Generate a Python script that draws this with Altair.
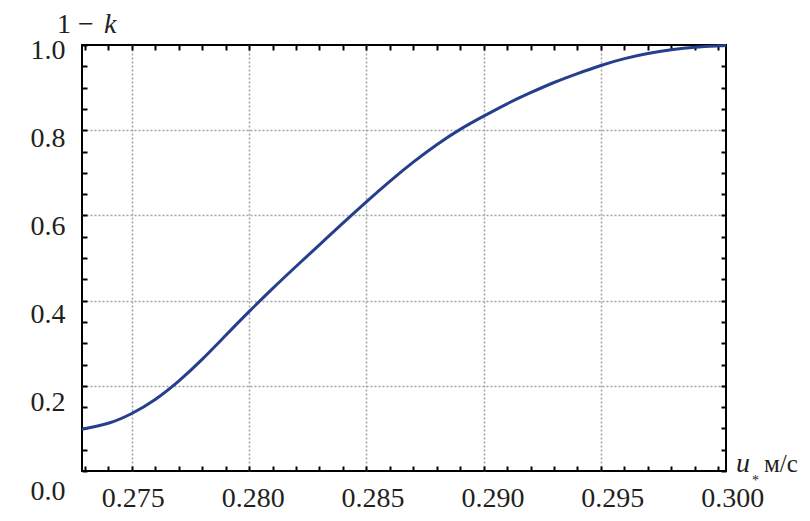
import altair as alt
import pandas as pd

# curve data
u_star = [0.27288, 0.274, 0.275, 0.276, 0.277, 0.278, 0.279, 0.280, 0.281, 0.282,
          0.283, 0.284, 0.285, 0.286, 0.287, 0.288, 0.289, 0.290, 0.291, 0.292,
          0.293, 0.294, 0.295, 0.296, 0.297, 0.298, 0.299, 0.300, 0.30033]
one_minus_k = [0.098, 0.112, 0.135, 0.168, 0.211, 0.262, 0.318, 0.374, 0.428, 0.480,
               0.531, 0.582, 0.632, 0.680, 0.725, 0.766, 0.802, 0.833, 0.862, 0.888,
               0.912, 0.933, 0.952, 0.968, 0.980, 0.989, 0.995, 0.998, 0.999]

x_domain = [0.27288, 0.30033]
y_domain = [0.0, 1.0]
x_ticks = [round(0.273 + i * 0.001, 3) for i in range(28)]
y_ticks = [round(i * 0.05, 2) for i in range(21)]

y_title = ["1 −", "k"]
x_title = ["u", "*", "м/с"]

df = pd.DataFrame({"u": u_star, "k": one_minus_k})

FONT = "Liberation Serif, Times New Roman, serif"
INK = "#231f20"
GRID = "#a3a3a3"

x_major = "abs(datum.value*200 - round(datum.value*200)) < 0.01"
y_major = "abs(datum.value*5 - round(datum.value*5)) < 0.01"

x_scale = alt.Scale(domain=x_domain, nice=False, zero=False)
y_scale = alt.Scale(domain=y_domain, nice=False, zero=False)

common_axis = dict(domain=False, tickSize=5, tickWidth=2, tickColor="black",
                   offset=-5, title=None, labelFont=FONT, labelFontSize=28,
                   labelColor=INK, labelOverlap=False, labelFlush=False)

x_bottom = alt.Axis(orient="bottom", values=x_ticks,
                    labelExpr=f"{x_major} ? format(datum.value, '.3f') : ''",
                    labelPadding=13,
                    labelOffset={"expr": "1 + (datum.value - 0.275) * 520"},
                    grid=True, gridColor=GRID, gridDash=[2, 2], gridWidth=1.5,
                    gridOpacity={"condition": {"test": f"{x_major} && datum.value < 0.2995", "value": 1}, "value": 0},
                    **common_axis)
y_left = alt.Axis(orient="left", values=y_ticks,
                  labelExpr=f"{y_major} ? format(datum.value, '.1f') : ''",
                  labelPadding=17,
                  labelOffset={"expr": "5 + (1 - datum.value) * 15"},
                  grid=True, gridColor=GRID, gridDash=[2, 2], gridWidth=1.5,
                  gridOpacity={"condition": {"test": f"{y_major} && datum.value > 0.01 && datum.value < 0.99", "value": 1}, "value": 0},
                  **common_axis)
x_top = alt.Axis(orient="top", values=x_ticks, labels=False, grid=False, **common_axis)
y_right = alt.Axis(orient="right", values=y_ticks, labels=False, grid=False, **common_axis)

curve = alt.Chart(df).mark_line(color="#263f8d", strokeWidth=3, interpolate="natural").encode(
    x=alt.X("u:Q", scale=x_scale, axis=x_bottom),
    y=alt.Y("k:Q", scale=y_scale, axis=y_left),
)
frame_axes = alt.Chart(df).mark_line(opacity=0).encode(
    x=alt.X("u:Q", scale=x_scale, axis=x_top),
    y=alt.Y("k:Q", scale=y_scale, axis=y_right),
)


def label(txt, x, y, size=28, style="normal", align="left"):
    return alt.Chart(pd.DataFrame({"t": [txt]})).mark_text(
        font=FONT, fontSize=size, fontStyle=style, color=INK, align=align, baseline="alphabetic"
    ).encode(text="t:N", x=alt.value(x), y=alt.value(y))


titles = [
    label(y_title[0], -25, -12),
    label(y_title[1], 22, -12, style="italic"),
    label(x_title[0], 654, 427, style="italic"),
    label(x_title[1], 670, 440, size=14),
    label(x_title[2], 682, 427, size=25),
]

chart = alt.layer(curve, frame_axes, *titles).resolve_axis(
    x="independent", y="independent"
).properties(
    width=644, height=426,
    autosize=alt.AutoSizeParams(type="none"),
    padding={"left": 74, "top": 37, "right": 76, "bottom": 42},
).configure_view(stroke="black", strokeWidth=2)

chart.save("out.html", embed_options={"renderer": "svg", "actions": False})
